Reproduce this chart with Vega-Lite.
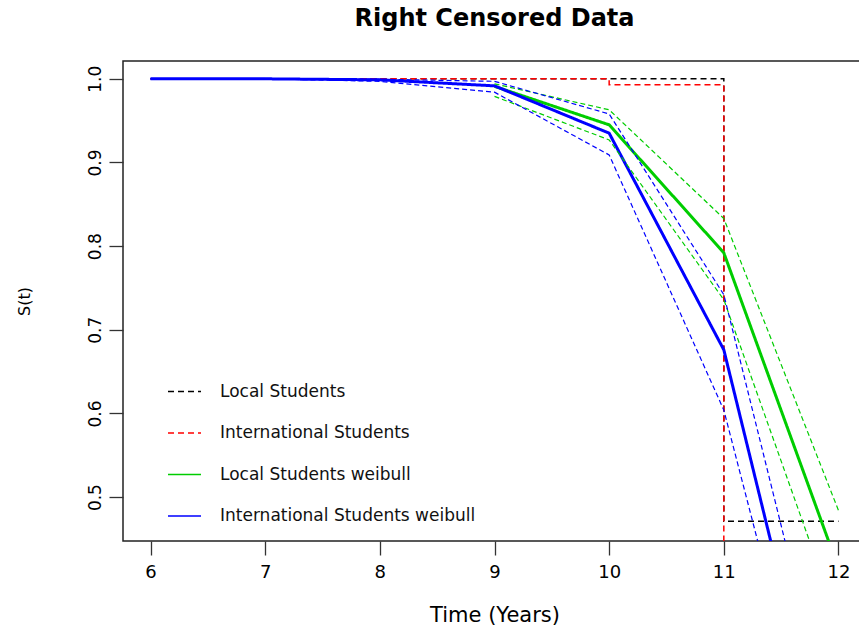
{
  "$schema": "https://vega.github.io/schema/vega-lite/v6.json",
  "width": 743,
  "height": 480,
  "autosize": {"type": "none"},
  "padding": {"left": 123, "top": 61, "right": 0, "bottom": 88},
  "background": "white",
  "title": {"text": "Right Censored Data", "fontSize": 24, "font": "DejaVu Sans", "fontWeight": "bold", "anchor": "middle", "offset": 30, "color": "#000000"},
  "config": {
    "font": "DejaVu Sans",
    "view": {"stroke": "#222222", "strokeWidth": 1.5},
    "legend": {"orient": "none", "legendX": 44, "legendY": 313, "padding": 0, "symbolType": "stroke", "symbolSize": 1089, "symbolStrokeWidth": 1.5, "labelFontSize": 17, "labelColor": "#111111", "labelOffset": 18, "rowPadding": 15.5, "labelLimit": 500, "labelFont": "DejaVu Sans"}
  },
  "data": {"values": [
    {"t": 6, "s": 1.0, "series": "Local Students", "line": "km"},
    {"t": 11, "s": 0.471, "series": "Local Students", "line": "km"},
    {"t": 12, "s": 0.471, "series": "Local Students", "line": "km"},
    {"t": 6, "s": 1.0, "series": "International Students", "line": "km"},
    {"t": 10, "s": 0.9928, "series": "International Students", "line": "km"},
    {"t": 11, "s": 0.0, "series": "International Students", "line": "km"},

    {"t": 9, "s": 0.991, "series": "Local Students weibull", "line": "est"},
    {"t": 10, "s": 0.945, "series": "Local Students weibull", "line": "est"},
    {"t": 11, "s": 0.792, "series": "Local Students weibull", "line": "est"},
    {"t": 12, "s": 0.415, "series": "Local Students weibull", "line": "est"},
    {"t": 9, "s": 0.994, "series": "Local Students weibull", "line": "upper"},
    {"t": 10, "s": 0.963, "series": "Local Students weibull", "line": "upper"},
    {"t": 11, "s": 0.833, "series": "Local Students weibull", "line": "upper"},
    {"t": 12, "s": 0.484, "series": "Local Students weibull", "line": "upper"},
    {"t": 9, "s": 0.979, "series": "Local Students weibull", "line": "lower"},
    {"t": 10, "s": 0.927, "series": "Local Students weibull", "line": "lower"},
    {"t": 11, "s": 0.736, "series": "Local Students weibull", "line": "lower"},
    {"t": 12, "s": 0.35, "series": "Local Students weibull", "line": "lower"},

    {"t": 6, "s": 1.0, "series": "International Students weibull", "line": "est"},
    {"t": 7, "s": 1.0, "series": "International Students weibull", "line": "est"},
    {"t": 8, "s": 0.9988, "series": "International Students weibull", "line": "est"},
    {"t": 9, "s": 0.9916, "series": "International Students weibull", "line": "est"},
    {"t": 10, "s": 0.935, "series": "International Students weibull", "line": "est"},
    {"t": 11, "s": 0.676, "series": "International Students weibull", "line": "est"},
    {"t": 12, "s": 0.117, "series": "International Students weibull", "line": "est"},
    {"t": 6, "s": 1.0, "series": "International Students weibull", "line": "upper"},
    {"t": 7, "s": 1.0, "series": "International Students weibull", "line": "upper"},
    {"t": 8, "s": 0.9995, "series": "International Students weibull", "line": "upper"},
    {"t": 9, "s": 0.997, "series": "International Students weibull", "line": "upper"},
    {"t": 10, "s": 0.958, "series": "International Students weibull", "line": "upper"},
    {"t": 11, "s": 0.742, "series": "International Students weibull", "line": "upper"},
    {"t": 12, "s": 0.19, "series": "International Students weibull", "line": "upper"},
    {"t": 6, "s": 1.0, "series": "International Students weibull", "line": "lower"},
    {"t": 7, "s": 1.0, "series": "International Students weibull", "line": "lower"},
    {"t": 8, "s": 0.997, "series": "International Students weibull", "line": "lower"},
    {"t": 9, "s": 0.984, "series": "International Students weibull", "line": "lower"},
    {"t": 10, "s": 0.909, "series": "International Students weibull", "line": "lower"},
    {"t": 11, "s": 0.604, "series": "International Students weibull", "line": "lower"},
    {"t": 12, "s": 0.074, "series": "International Students weibull", "line": "lower"}
  ]},
  "encoding": {
    "x": {"field": "t", "type": "quantitative",
      "scale": {"domain": [5.76, 12.24], "nice": false, "zero": false},
      "axis": {"values": [6, 7, 8, 9, 10, 11, 12], "domain": false, "grid": false, "tickSize": 14, "tickColor": "#333333", "tickWidth": 1.3, "labelFontSize": 18, "labelColor": "#000000", "labelPadding": 8, "title": "Time (Years)", "titleFontSize": 21, "titleFontWeight": "normal", "titleColor": "#000000", "titlePadding": 23, "labelFlush": false}},
    "y": {"field": "s", "type": "quantitative",
      "scale": {"domain": [0.4475, 1.0213], "nice": false, "zero": false},
      "axis": {"values": [0.5, 0.6, 0.7, 0.8, 0.9, 1.0], "format": ".1f", "domain": false, "grid": false, "tickSize": 14, "tickColor": "#333333", "tickWidth": 1.3, "labelFontSize": 17, "labelColor": "#000000", "labelAngle": -90, "labelAlign": "center", "labelBaseline": "bottom", "labelPadding": 5, "title": "S(t)", "titleFontSize": 16, "titleFontWeight": "normal", "titleColor": "#000000", "titlePadding": 54, "labelFlush": false}}
  },
  "layer": [
    {
      "transform": [{"filter": "datum.line == 'km'"}],
      "mark": {"type": "line", "interpolate": "step-after", "strokeWidth": 1.5, "clip": true},
      "encoding": {
        "color": {"field": "series", "type": "nominal", "sort": null,
          "scale": {"domain": ["Local Students", "International Students", "Local Students weibull", "International Students weibull"], "range": ["#000000", "#FF0000", "#00CD00", "#0000FF"]},
          "legend": {"title": null}},
        "strokeDash": {"field": "series", "type": "nominal", "sort": null,
          "scale": {"domain": ["Local Students", "International Students", "Local Students weibull", "International Students weibull"], "range": [[6, 4], [6, 4], [1, 0], [1, 0]]},
          "legend": {"title": null}}
      }
    },
    {
      "transform": [{"filter": "datum.line == 'est'"}],
      "mark": {"type": "line", "strokeWidth": 3, "clip": true},
      "encoding": {
        "color": {"field": "series", "type": "nominal", "sort": null, "legend": {"title": null}},
        "strokeDash": {"field": "series", "type": "nominal", "sort": null, "legend": {"title": null}}
      }
    },
    {
      "transform": [{"filter": "datum.line == 'upper' || datum.line == 'lower'"}],
      "mark": {"type": "line", "strokeWidth": 1.2, "strokeDash": [5, 3], "clip": true},
      "encoding": {
        "color": {"field": "series", "type": "nominal", "sort": null, "legend": {"title": null}},
        "detail": {"field": "line", "type": "nominal"}
      }
    }
  ]
}
